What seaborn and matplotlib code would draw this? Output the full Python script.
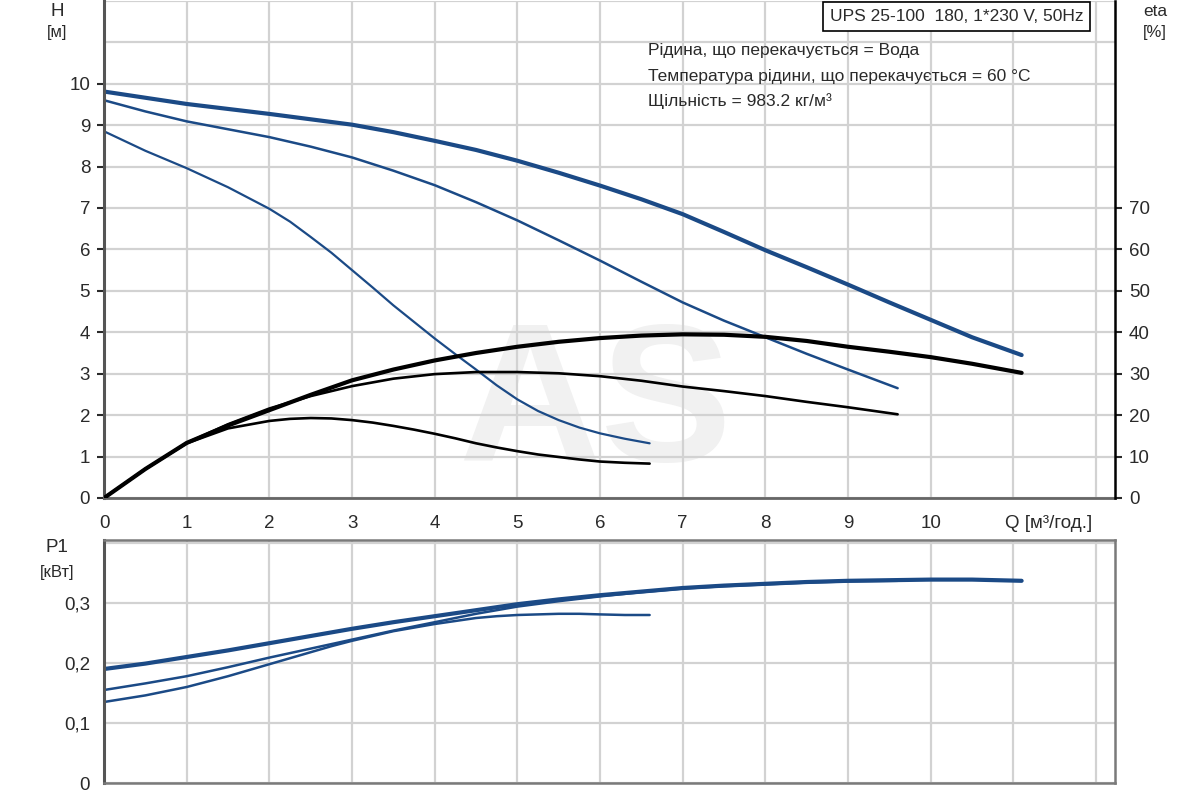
import numpy as np
import matplotlib
matplotlib.use("Agg")
import matplotlib.pyplot as plt
import seaborn as sns

# flow Q [m3/h] for each speed
q_max = [0, 0.5, 1, 1.5, 2, 2.5, 3, 3.5, 4, 4.5, 5, 5.5, 6, 6.5, 7, 7.5, 8, 8.5, 9, 9.5, 10, 10.5, 11.1]
q_mid = [0, 0.5, 1, 1.5, 2, 2.5, 3, 3.5, 4, 4.5, 5, 5.5, 6, 6.5, 7, 7.5, 8, 8.5, 9, 9.6]
q_low = [0, 0.5, 1, 1.5, 2, 2.25, 2.5, 2.75, 3, 3.25, 3.5, 3.75, 4, 4.25, 4.5, 4.75, 5,
         5.25, 5.5, 5.75, 6, 6.3, 6.6]

# head H [m]
h_max = [9.81, 9.66, 9.51, 9.39, 9.27, 9.14, 9.01, 8.83, 8.62, 8.4, 8.14, 7.85, 7.54, 7.21,
         6.85, 6.42, 5.98, 5.57, 5.15, 4.72, 4.3, 3.88, 3.45]
h_mid = [9.6, 9.33, 9.09, 8.9, 8.71, 8.48, 8.22, 7.9, 7.55, 7.14, 6.7, 6.22, 5.73, 5.22,
         4.72, 4.28, 3.88, 3.48, 3.1, 2.65]
h_low = [8.85, 8.38, 7.96, 7.5, 6.98, 6.67, 6.3, 5.92, 5.5, 5.08, 4.65, 4.25, 3.85, 3.47,
         3.1, 2.72, 2.38, 2.1, 1.88, 1.7, 1.56, 1.43, 1.32]

# efficiency eta [%]
eta_max = [0, 7.0, 13.3, 17.5, 21.2, 24.9, 28.4, 31.0, 33.2, 35.0, 36.5, 37.7, 38.6, 39.2,
           39.5, 39.4, 38.9, 37.9, 36.5, 35.3, 34.0, 32.4, 30.2]
eta_mid = [0, 7.0, 13.3, 17.8, 21.6, 24.6, 27.0, 28.8, 29.9, 30.4, 30.4, 30.1, 29.4, 28.3,
           26.9, 25.8, 24.6, 23.2, 21.9, 20.2]
eta_low = [0, 7.0, 13.2, 16.8, 18.6, 19.1, 19.3, 19.2, 18.8, 18.2, 17.4, 16.5, 15.5, 14.4,
           13.2, 12.2, 11.3, 10.5, 9.9, 9.3, 8.8, 8.5, 8.3]

# power P1 [kW]
p_max = [0.19, 0.199, 0.21, 0.221, 0.233, 0.245, 0.257, 0.268, 0.278, 0.288, 0.298, 0.306,
         0.313, 0.319, 0.325, 0.329, 0.332, 0.335, 0.337, 0.338, 0.339, 0.339, 0.337]
p_mid = [0.155, 0.166, 0.178, 0.193, 0.209, 0.224, 0.239, 0.254, 0.268, 0.282, 0.294, 0.303,
         0.311, 0.318, 0.324, 0.328, 0.331, 0.334, 0.336, 0.337]
p_low = [0.135, 0.146, 0.16, 0.178, 0.198, 0.208, 0.218, 0.228, 0.237, 0.245, 0.253, 0.259,
         0.265, 0.27, 0.275, 0.278, 0.28, 0.281, 0.282, 0.282, 0.281, 0.28, 0.28]

x_labels = ["0", "1", "2", "3", "4", "5", "6", "7", "8", "9", "10", ""]
q_label = "Q [м³/год.]"
info_lines = ["Рідина, що перекачується = Вода",
              "Температура рідини, що перекачується = 60 °C",
              "Щільність = 983.2 кг/м³"]
title_box = "UPS 25-100  180, 1*230 V, 50Hz"

sns.set_theme(style="whitegrid")
plt.rcParams["font.family"] = ["Liberation Sans", "DejaVu Sans"]

BLUE = "#1b4a86"
TXT = "#2a2a2a"
GRID = "#d2d2d2"
FS = 13.5

fig = plt.figure(figsize=(12, 8), dpi=100)
ax = fig.add_axes([0.0867, 0.3775, 0.8425, 0.6215])
ax_p = fig.add_axes([0.0867, 0.02125, 0.8425, 0.30375])

# watermark, behind the grid
ax.text(0.496, 0.488, "AS", transform=fig.transFigure, fontsize=142, color="#f1f1f1",
        ha="center", va="center", fontweight="bold", zorder=0.2)

for a in (ax, ax_p):
    a.set_facecolor("none")
    a.set_xlim(0, 12.23)
    a.set_xticks(range(12))
    a.set_xticks([12], minor=True)
    a.grid(True, which="both", color=GRID, linewidth=1.6)

# head curves
sns.lineplot(x=q_max, y=h_max, ax=ax, color=BLUE, linewidth=3.0, estimator=None, sort=False)
sns.lineplot(x=q_mid, y=h_mid, ax=ax, color=BLUE, linewidth=1.8, estimator=None, sort=False)
sns.lineplot(x=q_low, y=h_low, ax=ax, color=BLUE, linewidth=1.6, estimator=None, sort=False)

ax.set_ylim(0, 12)
ax.set_yticks(range(11))
ax.set_yticks([11, 12], minor=True)
ax.set_xticklabels(x_labels)
ax.annotate(q_label, xy=(11, 0), xycoords=("data", "axes fraction"),
            xytext=(-6, -12), textcoords="offset points", ha="left", va="top",
            fontsize=FS, color=TXT)

# efficiency curves on the right axis
ax_eta = ax.twinx()
ax_eta.grid(False)
sns.lineplot(x=q_max, y=eta_max, ax=ax_eta, color="black", linewidth=3.0, estimator=None, sort=False)
sns.lineplot(x=q_mid, y=eta_mid, ax=ax_eta, color="black", linewidth=1.9, estimator=None, sort=False)
sns.lineplot(x=q_low, y=eta_low, ax=ax_eta, color="black", linewidth=1.9, estimator=None, sort=False)
ax_eta.set_ylim(0, 120)
ax_eta.set_yticks(range(0, 80, 10))
ax_eta.set_xlim(0, 12.23)

# power curves
sns.lineplot(x=q_max, y=p_max, ax=ax_p, color=BLUE, linewidth=3.0, estimator=None, sort=False)
sns.lineplot(x=q_mid, y=p_mid, ax=ax_p, color=BLUE, linewidth=1.8, estimator=None, sort=False)
sns.lineplot(x=q_low, y=p_low, ax=ax_p, color=BLUE, linewidth=1.8, estimator=None, sort=False)
ax_p.set_ylim(0, 0.405)
ax_p.set_yticks([0, 0.1, 0.2, 0.3])
ax_p.set_yticks([0.4], minor=True)
ax_p.set_yticklabels(["0", "0,1", "0,2", "0,3"])
ax_p.set_xticklabels([])

for a in (ax, ax_eta, ax_p):
    a.tick_params(colors=TXT, labelsize=FS, length=5, width=1.5, pad=5, direction="out")
    a.tick_params(which="minor", length=0)
    a.set_xlabel("")
    a.set_ylabel("")
ax.tick_params(axis="x", pad=7)
ax_p.tick_params(axis="x", length=0)
ax_p.tick_params(axis="y", which="minor", length=5, width=1.5, color="#777777")

ax.spines["top"].set_visible(False)
ax.spines["right"].set_visible(False)
ax.spines["left"].set_color("#555555")
ax.spines["left"].set_linewidth(2.2)
ax.spines["bottom"].set_color("#666666")
ax.spines["bottom"].set_linewidth(2.0)
ax_eta.spines["top"].set_visible(False)
ax_eta.spines["left"].set_visible(False)
ax_eta.spines["bottom"].set_visible(False)
ax_eta.spines["right"].set_color("black")
ax_eta.spines["right"].set_linewidth(1.8)
for s in ax_p.spines.values():
    s.set_color("#7a7a7a")
    s.set_linewidth(1.8)
ax_p.spines["left"].set_color("#555555")
ax_p.spines["left"].set_linewidth(2.2)

# axis titles
fig.text(0.0475, 0.985, "H", fontsize=13.5, color=TXT, ha="center", va="center")
fig.text(0.0475, 0.96, "[м]", fontsize=12, color=TXT, ha="center", va="center")
fig.text(0.9625, 0.985, "eta", fontsize=12.5, color=TXT, ha="center", va="center")
fig.text(0.9625, 0.96, "[%]", fontsize=12, color=TXT, ha="center", va="center")
fig.text(0.0475, 0.315, "P1", fontsize=13.5, color=TXT, ha="center", va="center")
fig.text(0.0475, 0.285, "[кВт]", fontsize=12, color=TXT, ha="center", va="center")

fig.text(0.797, 0.979, title_box, fontsize=12.5, color=TXT, ha="center", va="center",
         bbox=dict(boxstyle="square,pad=0.4", facecolor="white", edgecolor="black", linewidth=1.2))
for txt, yy in zip(info_lines, [0.9375, 0.9045, 0.874]):
    fig.text(0.54, yy, txt, fontsize=12.5, color=TXT, ha="left", va="center")

fig.savefig("out.png", dpi=100)
